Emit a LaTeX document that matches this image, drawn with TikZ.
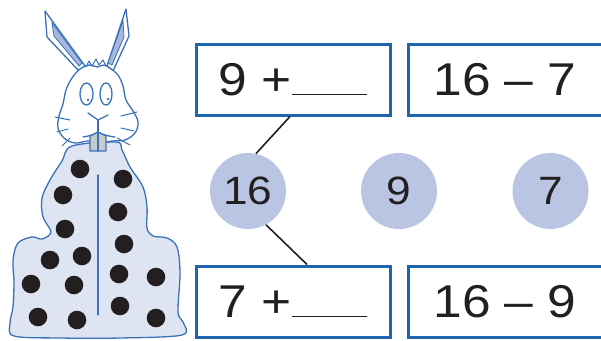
\documentclass[tikz,border=0pt]{standalone}
\usepackage{fontspec}
\setmainfont{Liberation Sans}[FakeStretch=1.12]
\definecolor{boxblue}{HTML}{1F64AE}
\definecolor{discblue}{HTML}{B9C5E3}
\definecolor{bunnyline}{HTML}{3A72BA}
\definecolor{bunnyfill}{HTML}{DEE4F2}
\definecolor{earfill}{HTML}{A9B7DE}
\definecolor{toothgray}{HTML}{C9CACC}
\definecolor{ink}{HTML}{231F20}
\begin{document}
\begin{tikzpicture}[x=1pt,y=-1pt,
    numbox/.style={draw=boxblue,line width=3pt,minimum width=194pt,minimum height=71pt,
      inner sep=0pt,text=ink,font=\fontsize{46}{50}\selectfont},
    numdisc/.style={circle,fill=discblue,minimum size=76pt,inner sep=0pt,
      text=ink,font=\fontsize{39.5}{42}\selectfont},
    link/.style={draw=ink,line width=1.6pt},
    bunny/.style={draw=bunnyline,line width=1.3pt,line join=round,line cap=round},
    spot/.style={fill=ink}]
  \useasboundingbox (0,0) rectangle (601,340);
  % rabbit body with the sixteen dots
  \draw[bunny,fill=bunnyfill] plot[smooth cycle,tension=0.55] coordinates {
    (72,146) (62,161) (50,180) (42,198) (43,217) (51,232) (42,239) (32,237)
    (18,243) (13,260) (14,282) (13,307) (10,323) (14,336) (60,338) (120,338)
    (182,335) (183,322) (178,312) (180,273) (177,247) (167,238) (153,236)
    (147,228) (147,207) (143,187) (130,167) (122,150) (116,142)};
  \draw[bunny] (98,175) -- (98,315);
  \foreach \x/\y in {80/169,63/195,65/229,50/260,82/256,31/284,74/285,38/317,77/320,
      123/179,118/212,124/244,119/274,156/277,120/306,156/318}
    \fill[spot] (\x,\y) circle (9.3pt);
  % ears
  \draw[bunny,fill=white] (45,11) -- (47,37) -- (79,71) -- (85,66) -- cycle;
  \fill[earfill,draw=bunnyline,line width=0.8pt] (52,23) -- (54,36) -- (79,66) -- (82,63) -- cycle;
  \draw[bunny,fill=white] (126,9) -- (107,66) -- (113,71) -- (129,36) -- cycle;
  \fill[earfill,draw=bunnyline,line width=0.8pt] (123,21) -- (108,63) -- (112,65) -- (124,37) -- cycle;
  % head
  \draw[bunny,fill=white] plot[smooth cycle,tension=0.6] coordinates {
    (80,69) (72,78) (66,90) (63,104) (59,116) (58,128) (64,138) (75,143)
    (88,141) (100,143) (112,141) (125,140) (135,133) (138,122) (133,111)
    (126,100) (123,86) (118,75) (111,69) (104,65) (97,67) (89,65)};
  \draw[bunny,line width=1pt] (86,67) -- (89,61) -- (92,66) -- (96,59) -- (99,65) -- (103,60) -- (106,66);
  \draw[bunny] (86.5,94) ellipse (6.5pt and 11pt);
  \draw[bunny] (106,94) ellipse (6pt and 11pt);
  \fill[bunnyline] (88,100) circle (1.4pt) (108,99) circle (1.4pt);
  \draw[bunny] (88,113) -- (98,120) -- (108,115);
  \draw[bunny] (98,120) -- (98,132);
  \draw[bunny] (83,137) .. controls (90,136) and (95,134) .. (98,132)
    .. controls (101,134) and (107,136) .. (115,137);
  \draw[bunny,fill=toothgray] (90,136) -- (90,151) -- (106,151) -- (106,136)
    .. controls (102,134) and (100,133) .. (98,132) .. controls (96,133) and (93,135) .. (90,136);
  \draw[bunny] (98,133) -- (98,151);
  % whiskers
  \draw[bunny,line width=1pt] (55,117) -- (70,120) (57,132) -- (68,129)
    (62,146) -- (70,138) (121,116) -- (137,112) (121,128) -- (134,131)
    (117,138) -- (130,145);
  % number boxes
  \node[numbox] (b9plus) at (293,79.5) {9 +\rule{75pt}{1.8pt}};
  \node[numbox] (b16m7) at (505,79.5) {16 – 7};
  \node[numbox] (b7plus) at (293,301.5) {7 +\rule{75pt}{1.8pt}};
  \node[numbox] (b16m9) at (505,301.5) {16 – 9};
  % discs
  \node[numdisc] (c16) at (248,191) {16};
  \node[numdisc] (c9) at (399,191) {9};
  \node[numdisc] (c7) at (550.5,191) {7};
  \draw[link] ([xshift=-3pt]b9plus.south) -- (c16.78);
  \draw[link] (c16.-62) -- ([xshift=14pt]b7plus.north);
\end{tikzpicture}
\end{document}
